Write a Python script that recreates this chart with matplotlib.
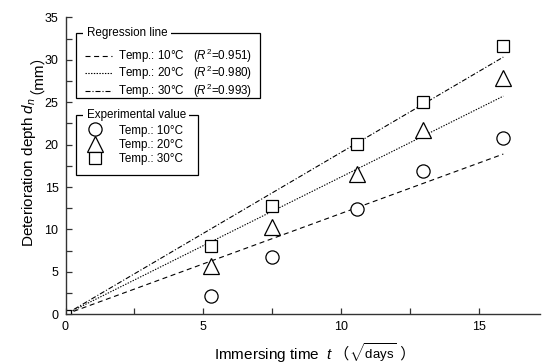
import matplotlib
matplotlib.use('Agg')
import matplotlib.pyplot as plt
from matplotlib.lines import Line2D
from matplotlib.patches import Rectangle
from matplotlib.ticker import MultipleLocator

plt.rcParams['font.family'] = ['Liberation Sans', 'Noto Sans CJK JP']
plt.rcParams['mathtext.fontset'] = 'custom'
plt.rcParams['mathtext.rm'] = 'Liberation Sans'
plt.rcParams['mathtext.it'] = 'Liberation Sans:italic'
plt.rcParams['mathtext.bf'] = 'Liberation Sans:bold'
plt.rcParams['lines.scale_dashes'] = False

# ---------------- data ----------------
time_sqrt_days = [5.29, 7.48, 10.58, 12.96, 15.87]
depth_10 = [2.2, 6.8, 12.4, 16.9, 20.8]
depth_20 = [5.7, 10.3, 16.5, 21.7, 27.8]
depth_30 = [8.1, 12.8, 20.1, 25.0, 31.6]
origin_x = [0.1]
origin_y = [0.2]
reg_slopes = [1.19, 1.62, 1.91]
reg_r2 = ['0.951', '0.980', '0.993']
reg_x_range = [0.0, 15.87]
temps = ['10°C', '20°C', '30°C']

W, H = 542, 363
fig = plt.figure(figsize=(W / 100, H / 100), dpi=100)


def fx(px):
    return px / W


def fy(py):
    return 1 - py / H


ax = fig.add_axes([fx(65.5), fy(314.3), fx(540) - fx(65.5), fy(17.3) - fy(314.3)])
ax.set_xlim(0, 17.2)
ax.set_ylim(0, 35)
for s in ['top', 'right']:
    ax.spines[s].set_visible(False)
for s in ['left', 'bottom']:
    ax.spines[s].set_linewidth(1.0)
    ax.spines[s].set_color('#333333')

ax.xaxis.set_major_locator(MultipleLocator(5))
ax.xaxis.set_minor_locator(MultipleLocator(2.5))
ax.yaxis.set_major_locator(MultipleLocator(5))
ax.yaxis.set_minor_locator(MultipleLocator(2.5))
ax.tick_params(which='both', direction='in', length=4.5, width=0.9, color='#333333',
               labelsize=9, pad=5)

line_styles = [(0, (3.6, 2.6)), (0, (1.0, 1.0)), (0, (3.6, 1.4, 0.8, 1.4))]
reg_handles = []
for k, slope in enumerate(reg_slopes):
    ys = [slope * x for x in reg_x_range]
    ln, = ax.plot(reg_x_range, ys, color='black', lw=0.8, linestyle=line_styles[k])
    reg_handles.append(ln)

mk = dict(color='none', mfc='white', mec='black', mew=0.9, linestyle='none')
h10, = ax.plot(time_sqrt_days, depth_10, marker='o', ms=9.5, **mk)
h20, = ax.plot(time_sqrt_days, depth_20, marker='^', ms=11, **mk)
h30, = ax.plot(time_sqrt_days, depth_30, marker='s', ms=8.3, **mk)
ax.plot(origin_x, origin_y, marker='s', ms=4.8, **mk)

FS = 8.4
# regression legend
reg_labels = [f'Temp.: {t}   ($R^2$={r})' for t, r in zip(temps, reg_r2)]
leg1 = fig.legend(reg_handles, reg_labels, loc='upper left',
                  bbox_to_anchor=(fx(85), fy(46.5)), bbox_transform=fig.transFigure,
                  frameon=False, borderpad=0, borderaxespad=0, fontsize=FS,
                  handlelength=2.3, handletextpad=0.57, labelspacing=-0.06)
leg2 = fig.legend([h10, h20, h30], [f'Temp.: {t}' for t in temps], loc='upper left',
                  bbox_to_anchor=(fx(86.4), fy(124.5)), bbox_transform=fig.transFigure,
                  frameon=False, borderpad=0, borderaxespad=0, fontsize=FS,
                  handlelength=1.5, handletextpad=1.28, labelspacing=0.185, numpoints=1)

renderer = fig.canvas.get_renderer()


def box_with_title(x0, y0, x1, y1, title, tx):
    rect = Rectangle((fx(x0), fy(y1)), fx(x1) - fx(x0), fy(y0) - fy(y1),
                     transform=fig.transFigure, fill=False, edgecolor='black', lw=0.9)
    fig.patches.append(rect)
    t = fig.text(fx(tx), fy(y0), title, fontsize=FS, ha='left', va='center',
                 bbox=dict(facecolor='white', edgecolor='none', pad=2.5))
    bb = t.get_window_extent(renderer)
    uy = bb.y0 + 0.5
    fig.add_artist(Line2D([bb.x0 / W, bb.x1 / W], [uy / H, uy / H],
                          transform=fig.transFigure, color='black', lw=0.8))


box_with_title(75.7, 33.3, 260, 98.3, 'Regression line', 86.7)
box_with_title(75.7, 115, 198.3, 175, 'Experimental value', 86.7)

# axis labels composed of parts (full-width parentheses come from the CJK font)
LFS = 11
xparts = [('Immersing time  $t$', LFS), ('（', LFS), (r'$\sqrt{\mathrm{days}}$', 9.5),
          (' ）', LFS)]
cx = 214
for p, size in xparts:
    t = fig.text(fx(cx), fy(358.5), p, fontsize=size, ha='left', va='baseline')
    bb = t.get_window_extent(renderer)
    cx = bb.x1

yparts = ['Deterioration depth $d_n$', '（mm）']
cy = 247
for p in yparts:
    t = fig.text(fx(33), fy(cy), p, fontsize=LFS, ha='left', va='baseline',
                 rotation=90, rotation_mode='anchor')
    bb = t.get_window_extent(renderer)
    cy = H - bb.y1 - 3

fig.savefig('out.png', dpi=100)
